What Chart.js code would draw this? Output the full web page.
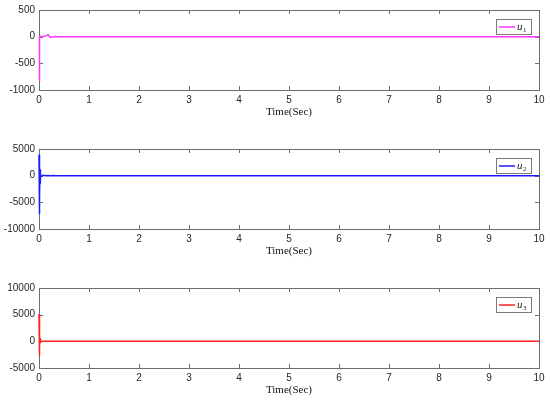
<!DOCTYPE html>
<html>
<head>
<meta charset="utf-8">
<script src="https://cdn.jsdelivr.net/npm/chart.js@4/dist/chart.umd.min.js"></script>
<style>
  html, body { margin: 0; padding: 0; background: #fff; overflow: hidden; }
  #wrap { position: relative; width: 550px; height: 401px; }
  .plot { position: absolute; left: 0; width: 550px; height: 119px; }
</style>
</head>
<body>
<div id="wrap">
  <div class="plot" style="top:0px"><canvas id="c1" width="550" height="119"></canvas></div>
  <div class="plot" style="top:139px"><canvas id="c2" width="550" height="119"></canvas></div>
  <div class="plot" style="top:278px"><canvas id="c3" width="550" height="119"></canvas></div>
</div>
<script>
// data
const time = [0, 0.005, 0.01, 0.015, 0.02, 0.025, 0.03, 0.04, 0.08, 0.14, 0.18, 0.23, 0.27, 0.32, 0.4, 0.6, 1, 2, 3, 4, 5, 6, 7, 8, 9, 10];
const u1 = [-820, -300, 10, 0, 5, 0, 5, 5, 5, 15, 38, -15, -5, 5, 0, 0, 0, 0, 0, 0, 0, 0, 0, 0, 0, 0];
const u2 = [3900, -7200, 2500, -4000, 1200, -1500, 400, -200, 80, 0, 20, -20, 10, 0, 0, 0, 0, 0, 0, 0, 0, 0, 0, 0, 0, 0];
const u3 = [5100, -2700, 2000, -1000, 600, -300, 150, -50, 20, 0, 0, 0, 0, 0, 0, 0, 0, 0, 0, 0, 0, 0, 0, 0, 0, 0];
const xTicks = [0, 1, 2, 3, 4, 5, 6, 7, 8, 9, 10];

const panels = [
  { id: 'c1', label: '1', values: u1, color: '#ff33ff', ymin: -1000, ymax: 500, step: 500 },
  { id: 'c2', label: '2', values: u2, color: '#1a1aff', ymin: -10000, ymax: 5000, step: 5000 },
  { id: 'c3', label: '3', values: u3, color: '#ff2020', ymin: -5000, ymax: 10000, step: 5000 }
];

// box and inward ticks under the lines, legend on top
const matlabAxes = {
  id: 'matlabAxes',
  beforeDatasetsDraw(chart) {
    const ctx = chart.ctx;
    const a = chart.chartArea;
    const xs = chart.scales.x, ys = chart.scales.y;
    ctx.save();
    ctx.strokeStyle = '#6e6e6e';
    ctx.lineWidth = 1;
    ctx.beginPath();
    xs.ticks.forEach(t => {
      const px = Math.round(xs.getPixelForValue(t.value)) + 0.5;
      ctx.moveTo(px, a.bottom); ctx.lineTo(px, a.bottom - 4);
      ctx.moveTo(px, a.top); ctx.lineTo(px, a.top + 4);
    });
    ys.ticks.forEach(t => {
      const py = Math.round(ys.getPixelForValue(t.value)) + 0.5;
      ctx.moveTo(a.left, py); ctx.lineTo(a.left + 4, py);
      ctx.moveTo(a.right, py); ctx.lineTo(a.right - 4, py);
    });
    ctx.stroke();
    ctx.strokeRect(Math.round(a.left) + 0.5, Math.round(a.top) + 0.5, Math.round(a.right - a.left), Math.round(a.bottom - a.top));
    ctx.restore();
  },
  afterDatasetsDraw(chart) {
    const ctx = chart.ctx;
    const a = chart.chartArea;
    const ds = chart.data.datasets[0];
    const bx = a.right - 43, by = a.top + 9, bw = 35, bh = 15;
    ctx.save();
    ctx.fillStyle = '#fff';
    ctx.fillRect(bx, by, bw, bh);
    ctx.strokeStyle = '#7a7a7a';
    ctx.lineWidth = 1;
    ctx.strokeRect(bx + 0.5, by + 0.5, bw, bh);
    ctx.strokeStyle = ds.borderColor;
    ctx.lineWidth = 1.5;
    ctx.beginPath();
    ctx.moveTo(bx + 3, by + bh / 2 + 0.5);
    ctx.lineTo(bx + 19, by + bh / 2 + 0.5);
    ctx.stroke();
    ctx.fillStyle = '#222';
    ctx.textBaseline = 'alphabetic';
    ctx.font = 'italic 11px "Liberation Serif"';
    ctx.fillText('u', bx + 21, by + 11);
    ctx.font = '7px "Liberation Serif"';
    ctx.fillText(ds.label, bx + 27, by + 13);
    ctx.restore();
  }
};

panels.forEach(p => {
  new Chart(document.getElementById(p.id), {
    type: 'line',
    data: {
      datasets: [{
        label: p.label,
        data: time.map((t, i) => ({ x: t, y: p.values[i] })),
        borderColor: p.color,
        borderWidth: 1.5,
        pointRadius: 0,
        tension: 0,
        fill: false,
        clip: { left: 2, top: 0, right: 0, bottom: 0 }
      }]
    },
    options: {
      responsive: false,
      animation: false,
      layout: { padding: { top: 10, right: 11, left: 0, bottom: 0 } },
      plugins: { legend: { display: false }, tooltip: { enabled: false } },
      scales: {
        x: {
          type: 'linear',
          min: 0, max: 10,
          afterBuildTicks: s => { s.ticks = xTicks.map(v => ({ value: v })); },
          afterFit: s => { s.height = 29; },
          grid: { display: false, drawTicks: false },
          border: { display: false },
          ticks: { color: '#262626', font: { family: 'Liberation Sans', size: 10 }, padding: 4, maxRotation: 0, callback: v => String(v) },
          title: { display: true, text: 'Time(Sec)', color: '#111', font: { family: 'Liberation Serif', size: 11 }, padding: { top: 0, bottom: 0 } }
        },
        y: {
          min: p.ymin, max: p.ymax,
          afterFit: s => { s.width = 39; },
          grid: { display: false, drawTicks: false },
          border: { display: false },
          ticks: { stepSize: p.step, color: '#262626', font: { family: 'Liberation Sans', size: 10 }, padding: 4, callback: v => String(v) }
        }
      }
    },
    plugins: [matlabAxes]
  });
});
</script>
</body>
</html>
